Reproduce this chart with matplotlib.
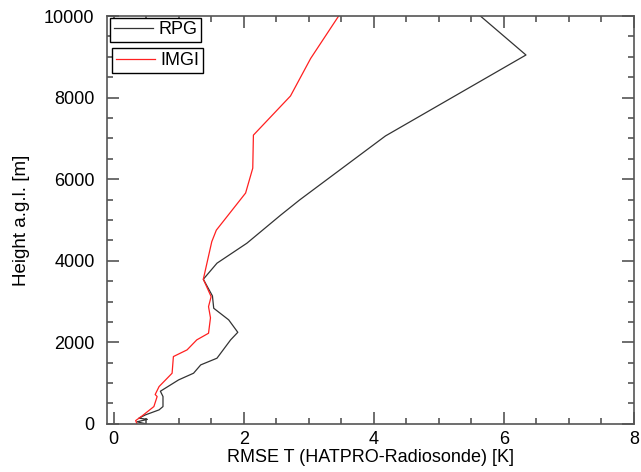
import matplotlib
matplotlib.use("Agg")
import matplotlib.pyplot as plt
from matplotlib.ticker import MultipleLocator
from matplotlib.lines import Line2D

plt.rcParams['font.family'] = ['Liberation Sans', 'DejaVu Sans']

# RPG series (RMSE in K, height in m)
rpg_x = [0.50, 0.36, 0.52, 0.39, 0.49, 0.70, 0.76, 0.76, 0.72, 1.00, 1.23, 1.34, 1.59,
         1.80, 1.91, 1.77, 1.54, 1.52, 1.38, 1.59, 2.05, 2.57, 2.86, 4.18, 6.34, 5.64]
rpg_y = [0, 50, 110, 140, 220, 343, 424, 670, 800, 1078, 1242, 1446, 1610,
         2060, 2245, 2550, 2835, 3137, 3546, 3940, 4430, 5120, 5490, 7060, 9045, 10000]

# IMGI series
imgi_x = [0.36, 0.34, 0.44, 0.62, 0.67, 0.64, 0.70, 0.80, 0.90, 0.92, 1.13, 1.28, 1.46,
          1.49, 1.46, 1.50, 1.38, 1.51, 1.58, 2.03, 2.14, 2.15, 2.72, 3.03, 3.46]
imgi_y = [0, 80, 196, 424, 670, 720, 915, 1078, 1242, 1650, 1814, 2060, 2222,
          2600, 2875, 3120, 3546, 4468, 4750, 5660, 6270, 7080, 8040, 8960, 10000]

series_names = ["RPG", "IMGI"]
series_colors = ["#333333", "#ff2020"]

fig = plt.figure(figsize=(6.41, 4.72), dpi=100)
ax = fig.add_axes([0.167, 0.102, 0.822, 0.864])

ax.plot(rpg_x, rpg_y, color=series_colors[0], lw=0.9)
ax.plot(imgi_x, imgi_y, color=series_colors[1], lw=0.9)

ax.set_xlim(-0.1, 8)
ax.set_ylim(0, 10000)
ax.xaxis.set_major_locator(MultipleLocator(2))
ax.xaxis.set_minor_locator(MultipleLocator(0.5))
ax.yaxis.set_major_locator(MultipleLocator(2000))
ax.yaxis.set_minor_locator(MultipleLocator(500))
ax.tick_params(which='both', direction='in', top=True, right=True,
               colors='#555555', labelcolor='black', labelsize=13, width=1.2)
ax.tick_params(which='major', length=8.5)
ax.tick_params(axis='y', which='major', pad=9)
ax.tick_params(axis='x', which='major', pad=5)
ax.tick_params(which='minor', length=4.3)
for s in ax.spines.values():
    s.set_color('#555555')
    s.set_linewidth(1.2)

ax.set_xlabel("RMSE T (HATPRO-Radiosonde) [K]", fontsize=13, labelpad=1)
ax.set_ylabel("Height a.g.l. [m]", fontsize=13.5, labelpad=10)

h1 = Line2D([], [], color=series_colors[0], lw=0.9)
h2 = Line2D([], [], color=series_colors[1], lw=0.9)
leg1 = ax.legend([h1], [series_names[0]], loc='upper left', bbox_to_anchor=(0.002, 1.0),
                 fontsize=13, fancybox=False, edgecolor='black', framealpha=1,
                 handlelength=2.2, borderpad=0.2, handletextpad=0.3, borderaxespad=0.1)
leg1.get_frame().set_linewidth(1.0)
ax.add_artist(leg1)
leg2 = ax.legend([h2], [series_names[1]], loc='upper left', bbox_to_anchor=(0.006, 0.925),
                 fontsize=13, fancybox=False, edgecolor='black', framealpha=1,
                 handlelength=2.2, borderpad=0.2, handletextpad=0.3, borderaxespad=0.1)
leg2.get_frame().set_linewidth(1.0)

fig.savefig("out.png", dpi=100)
